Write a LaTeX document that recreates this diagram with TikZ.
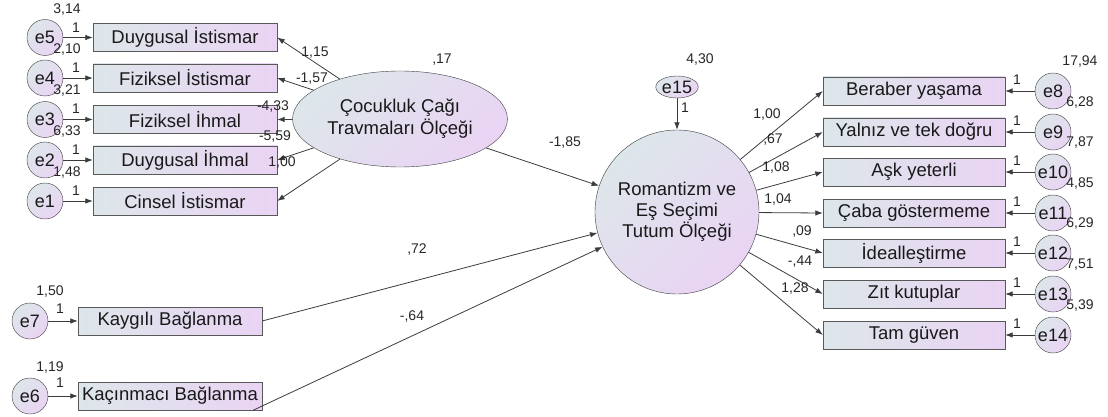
\documentclass[tikz,border=0pt]{standalone}
\usepackage{fontspec}
\setmainfont{Liberation Sans}
\usetikzlibrary{arrows.meta,shapes.geometric}

\definecolor{shadeleft}{HTML}{DDE6EA}
\definecolor{shaderight}{HTML}{EAD4F4}
\definecolor{linegray}{HTML}{3C3C3C}

\tikzset{
  obs/.style={rectangle,draw=linegray!85,left color=shadeleft,right color=shaderight,
    minimum width=184,minimum height=28,inner sep=0,text=black!90,font=\fontsize{18.5}{20}\selectfont},
  errc/.style={circle,draw=linegray,left color=shadeleft,right color=shaderight,
    shading angle=45,minimum size=36,inner sep=0,text=black!90,font=\fontsize{18}{20}\selectfont},
  num/.style={inner sep=0,text=black!85,font=\fontsize{14}{15}\selectfont},
  reg/.style={draw=linegray,line width=.8,-{Latex[length=7.5,width=5.5]}}
}

\begin{document}
\begin{tikzpicture}[x=1pt,y=-1pt]
      \useasboundingbox (0,0) rectangle (1108,417);

      % observed variables
      \begin{scope}[every node/.style={obs}]
        \node (duyist) at (185,37.5) {Duygusal İstismar};
        \node (fizist) at (185,78)  {Fiziksel İstismar};
        \node (fizihm) at (185,119.5) {Fiziksel İhmal};
        \node (duyihm) at (185,160) {Duygusal İhmal};
        \node (cinist) at (185,201) {Cinsel İstismar};
        \node (kaygi)  at (170,321) {Kaygılı Bağlanma};
        \node (kacin)  at (170,396) {Kaçınmacı Bağlanma};
        \node[minimum width=182] (beraber) at (914,91)  {Beraber yaşama};
        \node[minimum width=182] (yalniz)  at (914,132) {Yalnız ve tek doğru};
        \node[minimum width=182] (ask)     at (914,172) {Aşk yeterli};
        \node[minimum width=182] (caba)    at (914,213) {Çaba göstermeme};
        \node[minimum width=182] (ideal)   at (914,253) {İdealleştirme};
        \node[minimum width=182] (zit)     at (914,294) {Zıt kutuplar};
        \node[minimum width=182] (tam)     at (914,335) {Tam güven};
      \end{scope}

      % error terms
      \begin{scope}[every node/.style={errc}]
        \node (e5) at (45,37.5) {e5};
        \node (e4) at (45,78)  {e4};
        \node (e3) at (45,119.5) {e3};
        \node (e2) at (45,160) {e2};
        \node (e1) at (45,201) {e1};
        \node (e7) at (30,321) {e7};
        \node (e6) at (30,396) {e6};
        \node (e8)  at (1053,91)  {e8};
        \node (e9)  at (1053,132) {e9};
        \node (e10) at (1053,172) {e10};
        \node (e11) at (1053,213) {e11};
        \node (e12) at (1053,253) {e12};
        \node (e13) at (1053,294) {e13};
        \node (e14) at (1053,335) {e14};
        \node[ellipse,minimum width=40,minimum height=22] (e15) at (677,87) {e15};
      \end{scope}

      % latent variables
      \node[ellipse,draw=linegray,left color=shadeleft,right color=shaderight,shading angle=45,
        minimum width=194,minimum height=96,align=center,text=black!90,
        font=\fontsize{18.5}{22}\selectfont] (travma) at (400,119)
        {Çocukluk Çağı\\Travmaları Ölçeği};
      \node[circle,draw=linegray,left color=shadeleft,right color=shaderight,shading angle=45,
        minimum size=164,align=center,text=black!90,
        font=\fontsize{18.5}{21}\selectfont] (romantizm) at (677,212)
        {Romantizm ve\\Eş Seçimi\\Tutum Ölçeği};

      \begin{scope}[every edge/.style={reg}]
        \path (e5) edge (duyist);
        \path (e4) edge (fizist);
        \path (e3) edge (fizihm);
        \path (e2) edge (duyihm);
        \path (e1) edge (cinist);
        \path (e7) edge (kaygi);
        \path (e6) edge (kacin);
        \path (e8)  edge (beraber);
        \path (e9)  edge (yalniz);
        \path (e10) edge (ask);
        \path (e11) edge (caba);
        \path (e12) edge (ideal);
        \path (e13) edge (zit);
        \path (e14) edge (tam);
        \path (e15) edge (romantizm);
        \path (travma) edge (duyist.east);
        \path (travma) edge (fizist.east);
        \path (travma) edge (fizihm.east);
        \path (travma) edge (duyihm.east);
        \path (travma) edge (cinist.east);
        \path (travma) edge (romantizm);
        \path (kaygi.east) edge (romantizm);
        \path ([xshift=-9]kacin.south east) edge (romantizm);
        \path (romantizm) edge (beraber.west);
        \path (romantizm) edge (yalniz.west);
        \path (romantizm) edge (ask.west);
        \path (romantizm) edge (caba.west);
        \path (romantizm) edge (ideal.west);
        \path (romantizm) edge (zit.west);
        \path (romantizm) edge (tam.west);
      \end{scope}

      % estimates
      \begin{scope}[every node/.style={num}]
        \node (v5) at (67,9.5)   {3,14};  \node (w5) at (76,28)  {1};
        \node (v4) at (67,50)    {2,10};  \node (w4) at (76,68)  {1};
        \node (v3) at (67,91)    {3,21};  \node (w3) at (76,109) {1};
        \node (v2) at (67,132)   {6,33};  \node (w2) at (76,150) {1};
        \node (v1) at (67,173)   {1,48};  \node (w1) at (76,191) {1};
        \node (v7) at (50,292)   {1,50};  \node (w7) at (60,309) {1};
        \node (v6) at (50,368)   {1,19};  \node (w6) at (60,383) {1};
        \node (v8)  at (1080,62)  {17,94}; \node (w8)  at (1017,80)  {1};
        \node (v9)  at (1080,103) {6,28};  \node (w9)  at (1017,121) {1};
        \node (v10) at (1080,143) {7,87};  \node (w10) at (1017,161) {1};
        \node (v11) at (1080,184) {4,85};  \node (w11) at (1017,202) {1};
        \node (v12) at (1080,224) {6,29};  \node (w12) at (1017,242) {1};
        \node (v13) at (1080,265) {7,51};  \node (w13) at (1017,283) {1};
        \node (v14) at (1080,306) {5,39};  \node (w14) at (1017,324) {1};
        \node (v15) at (700,60)  {4,30};  \node (w15) at (685,108) {1};
        \node (vtr) at (442,60)  {,17};
        \node (l1) at (315,53)  {1,15};
        \node (l2) at (312,79)  {-1,57};
        \node (l3) at (273,107) {-4,33};
        \node (l4) at (275,137) {-5,59};
        \node (l5) at (282,163) {1,00};
        \node (l6) at (565,143) {-1,85};
        \node (l7) at (417,250) {,72};
        \node (l8) at (412,317) {-,64};
        \node (r1) at (767,115) {1,00};
        \node (r2) at (773,140) {,67};
        \node (r3) at (776,168) {1,08};
        \node (r4) at (778,200) {1,04};
        \node (r5) at (802,232) {,09};
        \node (r6) at (800,262) {-,44};
        \node (r7) at (795,289) {1,28};
      \end{scope}

    \end{tikzpicture}
\end{document}
